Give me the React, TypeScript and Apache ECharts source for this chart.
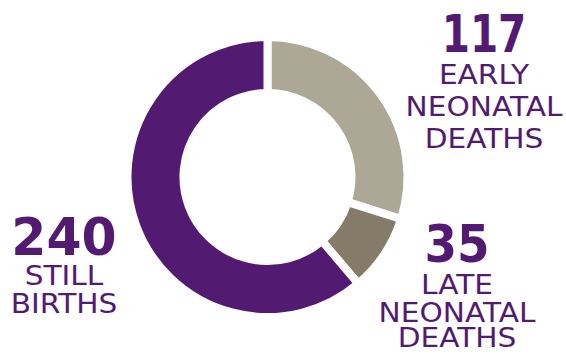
import React, { useEffect, useRef } from "react";
import * as echarts from "echarts";

const categories = ["EARLY NEONATAL DEATHS", "LATE NEONATAL DEATHS", "STILL BIRTHS"];
const values = [117, 35, 240];
const sliceColors = ["#ADA896", "#857B69", "#521A70"];
const labelLines = [
  ["EARLY", "NEONATAL", "DEATHS"],
  ["LATE", "NEONATAL", "DEATHS"],
  ["STILL", "BIRTHS"],
];

const TEXT_COLOR = "#521A70";
const FONT = "'DejaVu Sans', sans-serif";

// layout for each label block: x center, y of number, y of each line, number width squeeze
const blockLayout = [
  { x: 484, numY: 34, numScale: 0.78, lineYs: [75.5, 107, 139] },
  { x: 457, numY: 244, numScale: 0.9, lineYs: [285, 313.5, 338] },
  { x: 64, numY: 236.5, numScale: 0.97, lineYs: [276, 304] },
];

export default function App() {
  const ref = useRef<HTMLDivElement>(null);
  useEffect(() => {
    if (!ref.current) return;
    const chart = echarts.init(ref.current, undefined, { renderer: "svg" });
    const graphics: any[] = [];
    categories.forEach((cat, i) => {
      const L = blockLayout[i];
      graphics.push({
        type: "text",
        x: L.x,
        y: L.numY,
        scaleX: L.numScale,
        style: {
          text: String(values[i]),
          fill: TEXT_COLOR,
          font: `bold 52px ${FONT}`,
          lineHeight: 44,
          textAlign: "center",
          textVerticalAlign: "middle",
        },
      });
      labelLines[i].forEach((ln, j) => {
        graphics.push({
          type: "text",
          x: L.x,
          y: L.lineYs[j],
          scaleX: 1.14,
          style: {
            text: ln,
            fill: TEXT_COLOR,
            font: `normal 26px ${FONT}`,
            lineHeight: 22,
            textAlign: "center",
            textVerticalAlign: "middle",
          },
        });
      });
    });
    chart.setOption({
      animation: false,
      backgroundColor: "#ffffff",
      series: [
        {
          type: "pie",
          center: [267.5, 177],
          radius: [84, 140],
          startAngle: 90,
          clockwise: true,
          silent: true,
          label: { show: false },
          labelLine: { show: false },
          emphasis: { disabled: true },
          itemStyle: { borderColor: "#ffffff", borderWidth: 8 },
          data: categories.map((c, i) => ({
            name: c,
            value: values[i],
            itemStyle: { color: sliceColors[i] },
          })),
        },
      ],
      graphic: graphics,
    });
    return () => chart.dispose();
  }, []);
  return (
    <div
      ref={ref}
      style={{ position: "fixed", left: 0, top: 0, width: 566, height: 354 }}
    />
  );
}
